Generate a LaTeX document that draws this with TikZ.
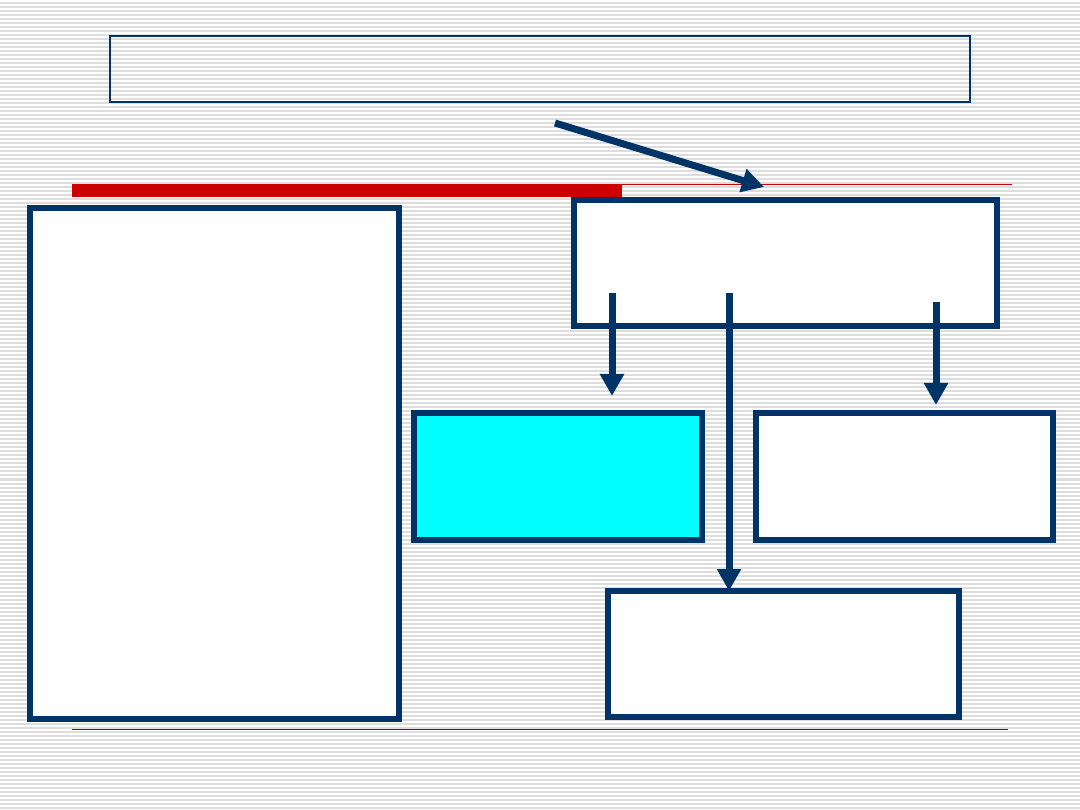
\documentclass[tikz,border=0pt]{standalone}
\usetikzlibrary{arrows.meta}
\definecolor{navy}{RGB}{0,51,102}
\definecolor{stripe}{RGB}{221,221,221}
\definecolor{redbar}{RGB}{204,0,0}
\definecolor{aqua}{RGB}{0,255,255}
\begin{document}
\begin{tikzpicture}[x=1pt,y=-1pt,
  thickbox/.style={draw=navy,line width=5.5pt,fill=white,inner sep=0pt,outer sep=0pt,anchor=north west},
  arr/.style={draw=navy,line width=7pt,-{Triangle[length=22pt,width=23pt]}}]
\useasboundingbox (0,0) rectangle (1080,810);
\fill[white] (0,0) rectangle (1080,810);
\foreach \k in {0,...,202} {
  \fill[stripe] (0,{4*\k+2.5}) rectangle (1080,{4*\k+4.5});
}
% title box
\node[draw=navy,line width=1.3pt,minimum width=860pt,minimum height=66pt,inner sep=0pt,outer sep=0pt,anchor=north west] (title) at (110,36) {};
% red bar and lines
\fill[redbar] (72,184) rectangle (622,197);
\draw[redbar,line width=1.3pt] (622,184.5) -- (1012,184.5);
\draw[redbar!80!black,line width=1pt] (72,729.5) -- (1008,729.5);
% boxes
\node[thickbox,minimum width=369pt,minimum height=511pt] (left) at (30,208) {};
\node[thickbox,minimum width=423pt,minimum height=126pt] (top) at (574,200) {};
\node[thickbox,fill=aqua,minimum width=288pt,minimum height=127pt] (cyan) at (414,413) {};
\node[thickbox,minimum width=297pt,minimum height=127pt] (right) at (756,413) {};
\node[thickbox,minimum width=351pt,minimum height=126pt] (bottom) at (608,591) {};
% arrows
\coordinate (d0) at (555,123);
\coordinate (d1) at (764,187);
\draw[arr] (d0) -- (d1);
\coordinate (a0) at (612,293);
\coordinate (a1) at (612,396);
\draw[arr] (a0) -- (a1);
\coordinate (b0) at (729,293);
\draw[arr] (b0) -- (bottom.north west -| b0);
\coordinate (c0) at (936,302);
\coordinate (c1) at (936,405);
\draw[arr] (c0) -- (c1);
\end{tikzpicture}
\end{document}
